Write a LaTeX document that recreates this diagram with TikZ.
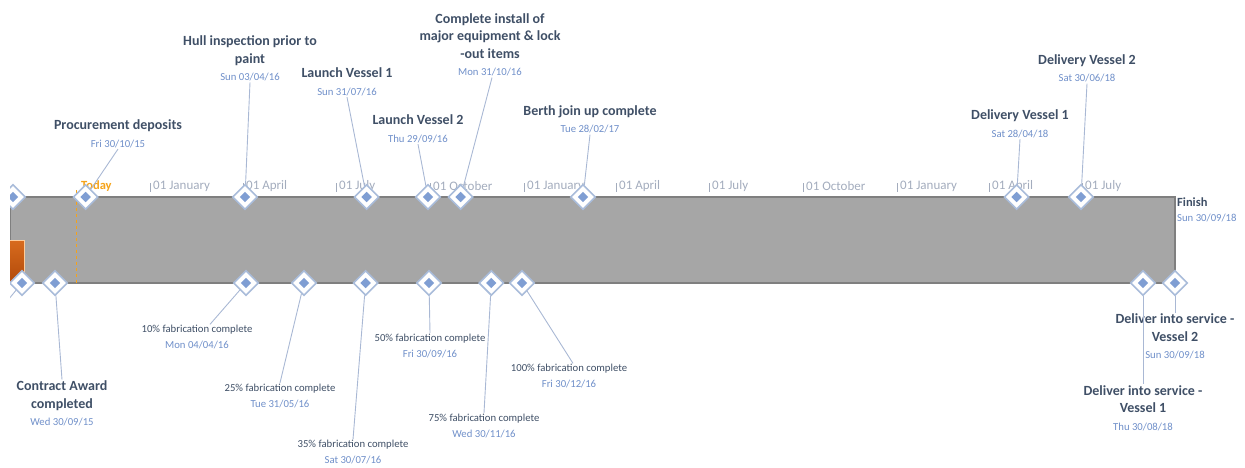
\documentclass[tikz,border=0pt]{standalone}
\usepackage{fontspec}
\setmainfont{Carlito}
\usetikzlibrary{shapes.geometric}
\definecolor{tcol}{HTML}{3F4F66}
\definecolor{dcol}{HTML}{6F8FC9}
\definecolor{lcol}{HTML}{A9B8D4}
\definecolor{dout}{HTML}{A9BCDA}
\definecolor{din}{HTML}{7F9ED3}
\definecolor{barf}{HTML}{A6A6A6}
\definecolor{bard}{HTML}{7F7F7F}
\definecolor{scol}{HTML}{A3ACBD}
\definecolor{tod}{HTML}{F5A31A}
\definecolor{orA}{HTML}{D86B1E}
\definecolor{orB}{HTML}{B24A0A}
\newcommand\dt[1]{{\fontsize{10.7}{17}\selectfont\mdseries\color{dcol}#1}}
\tikzset{
 ms/.style={diamond, draw=dout, line width=1.6pt, fill=white, minimum width=25pt, minimum height=25pt, inner sep=0pt},
 msin/.style={diamond, fill=din, minimum width=10.5pt, minimum height=10.5pt, inner sep=0pt},
 lab/.style={align=center, text=tcol, font=\fontsize{14}{17.5}\selectfont\bfseries, inner sep=1pt},
 flab/.style={align=center, text=tcol, font=\fontsize{10.7}{16}\selectfont, inner sep=1pt},
 conn/.style={draw=lcol, line width=0.9pt},
 tscale/.style={text=scol, font=\fontsize{13}{14}\selectfont, anchor=west, inner sep=1pt},
 tick/.style={draw=scol, line width=0.8pt},
}
\begin{document}
\begin{tikzpicture}[x=1pt,y=-1pt]
\useasboundingbox (0,0) rectangle (1245,467);
\clip (10,0) rectangle (1245,467);
% bar
\path[fill=barf, draw=bard, line width=1.5pt] (10,197) rectangle (1175,283);
\path[top color=orA, bottom color=orB, draw=orange!40] (5,240) rectangle (24,282);
% timescale
\foreach \n/\x/\t in {a/150/01 January, b/243/01 April, c/336/01 July, d/430/01 October,
  e/524/01 January, f/616/01 April, g/709/01 July, h/803/01 October, i/897/01 January,
  j/989/01 April, k/1082/01 July}{
  \coordinate (tk\n) at (\x,183);
  \draw[tick] (tk\n) -- ++(0,9);
  \node[tscale] (ts\n) at (\x+2,186.5) {\t};
}
% today
\coordinate (today0) at (76,190);
\coordinate (today1) at (76,283);
\draw[tod, dashed, line width=1pt] (today0) -- (today1);
\node[text=tod, font=\fontsize{12.5}{14}\selectfont\bfseries, anchor=west, inner sep=1pt] (todaylab) at (80,186) {Today};
% diamonds
\foreach \n/\x/\y in {t0/13/197, pd/85.6/197, hull/245/197, lv1/366.6/197, lv2/428/197, ci/460.6/197,
  berth/583/197, dv1/1016.6/197, dv2/1081/197,
  b0/22/283, ca/55/283, f10/246/283, f25/304/283, f35/365.6/283, f50/429/283, f75/491.3/283,
  f100/522/283, dis1/1143/283, dis2/1175/283}{
  \node[ms] (m\n) at (\x,\y) {};
  \node[msin] (m\n-i) at (\x,\y) {};
}
% top labels
\node[lab] (Lpd) at (118,134) {Procurement deposits\\\dt{Fri 30/10/15}};
\node[lab] (Lhull) at (250,58.5) {Hull inspection prior to\\paint\\\dt{Sun 03/04/16}};
\node[lab] (Llv1) at (347,82) {Launch Vessel 1\\\dt{Sun 31/07/16}};
\node[lab] (Llv2) at (418,129) {Launch Vessel 2\\\dt{Thu 29/09/16}};
\node[lab] (Lci) at (490,45) {Complete install of\\major equipment \& lock\\-out items\\\dt{Mon 31/10/16}};
\node[lab] (Lberth) at (590,119.5) {Berth join up complete\\\dt{Tue 28/02/17}};
\node[lab] (Ldv1) at (1020,124) {Delivery Vessel 1\\\dt{Sat 28/04/18}};
\node[lab] (Ldv2) at (1087,68.5) {Delivery Vessel 2\\\dt{Sat 30/06/18}};
\node[lab, align=left, anchor=west, font=\fontsize{12.5}{15}\selectfont\bfseries] (Lfin) at (1176,209.5) {Finish\\{\fontsize{10.7}{15}\selectfont\mdseries\color{dcol}Sun 30/09/18}};
% bottom labels
\node[lab] (Lca) at (62,403.5) {Contract Award\\completed\\\dt{Wed 30/09/15}};
\node[flab] (Lf10) at (197,337.5) {10\% fabrication complete\\\dt{Mon 04/04/16}};
\node[flab] (Lf25) at (280,396) {25\% fabrication complete\\\dt{Tue 31/05/16}};
\node[flab] (Lf35) at (353,452.5) {35\% fabrication complete\\\dt{Sat 30/07/16}};
\node[flab] (Lf50) at (430,346) {50\% fabrication complete\\\dt{Fri 30/09/16}};
\node[flab] (Lf75) at (484,426) {75\% fabrication complete\\\dt{Wed 30/11/16}};
\node[flab] (Lf100) at (569,376.5) {100\% fabrication complete\\\dt{Fri 30/12/16}};
\node[lab] (Ldis2) at (1175,336.5) {Deliver into service -\\Vessel 2\\\dt{Sun 30/09/18}};
\node[lab] (Ldis1) at (1143,408) {Deliver into service -\\Vessel 1\\\dt{Thu 30/08/18}};
% connectors
\draw[conn] (Lpd.south) -- (mpd);
\draw[conn] (Lhull.south) -- (mhull);
\draw[conn] (Llv1.south) -- (mlv1);
\draw[conn] (Llv2.south) -- (mlv2);
\draw[conn] ([xshift=2pt]Lci.south) -- (mci);
\draw[conn] (Lberth.south) -- (mberth);
\draw[conn] (Ldv1.south) -- (mdv1);
\draw[conn] (Ldv2.south) -- (mdv2);
\coordinate (b0end) at (8,300);
\draw[conn] (mb0) -- (b0end);
\draw[conn] (mca) -- (Lca.north);
\draw[conn] (mf10) -- ([xshift=13pt]Lf10.north);
\draw[conn] (mf25) -- (Lf25.north);
\draw[conn] (mf35) -- (Lf35.north);
\draw[conn] (mf50) -- (Lf50.north);
\draw[conn] (mf75) -- (Lf75.north);
\draw[conn] (mf100) -- ([xshift=4pt]Lf100.north);
\draw[conn] (mdis1) -- (Ldis1.north -| mdis1);
\draw[conn] (mdis2) -- (Ldis2.north -| mdis2);
\end{tikzpicture}
\end{document}
